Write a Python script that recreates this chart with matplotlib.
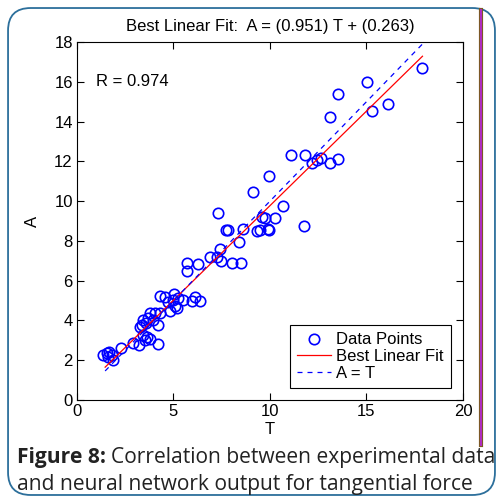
import numpy as np
import matplotlib
matplotlib.use("Agg")
import matplotlib.pyplot as plt
from matplotlib.patches import FancyBboxPatch

# target T vs network output A
T = [1.36, 1.54, 1.59, 1.67, 1.80, 1.88, 2.26, 2.88, 3.23, 3.44, 3.52, 3.64, 3.78,
     4.21, 3.26, 3.35, 3.40, 3.58, 3.70, 3.78, 3.95, 4.04, 4.21, 4.30,
     4.30, 4.56, 4.73, 4.82, 4.96, 5.04, 5.08, 5.17, 5.25, 5.51, 5.94, 6.11, 6.37,
     5.68, 5.68, 6.29, 6.89, 7.24, 7.44, 7.41, 8.01, 8.50, 8.41,
     7.70, 7.80, 8.62, 9.34, 9.91, 7.32, 9.14, 9.57, 9.74, 10.26, 9.48, 9.96,
     9.95, 10.66, 11.78, 11.07, 11.80, 12.16, 12.42, 12.64, 13.10, 13.54,
     13.13, 15.27, 16.13, 13.52, 15.04, 17.90]
A = [2.26, 2.35, 2.18, 2.43, 2.26, 2.01, 2.63, 2.88, 2.77, 3.27, 3.02, 3.18, 3.05,
     2.80, 3.65, 3.77, 4.02, 3.86, 4.11, 4.39, 4.02, 4.36, 3.77, 4.39,
     5.23, 5.16, 4.94, 4.49, 5.03, 5.33, 4.73, 4.61, 5.11, 5.03, 4.98, 5.16, 4.99,
     6.87, 6.50, 6.84, 7.20, 7.17, 7.00, 7.58, 6.90, 6.90, 7.96,
     8.55, 8.55, 8.58, 8.51, 8.58, 9.42, 10.44, 9.22, 9.13, 9.13, 8.55, 8.55,
     11.26, 9.75, 8.75, 12.32, 12.32, 11.93, 12.07, 12.15, 11.90, 12.10,
     14.24, 14.55, 14.88, 15.37, 15.97, 16.68]
slope = 0.951
intercept = 0.263
r_value = 0.974

plt.rcParams['font.family'] = ['Liberation Sans', 'DejaVu Sans']

fig = plt.figure(figsize=(5.03, 5.01), dpi=100)
ax = fig.add_axes([0.153, 0.2016, 0.7675, 0.7145])

T = np.array(T)
A = np.array(A)
t_line = np.array([T.min() + 0.1, T.max()])

ax.plot(T, A, 'o', mfc='none', mec='blue', ms=7.5, mew=1.2, label='Data Points')
ax.plot(t_line, slope * t_line + intercept, '-', color='red', lw=0.9, label='Best Linear Fit')
ax.plot(t_line, t_line, '--', color='blue', lw=0.9, dashes=(4, 4), label='A = T')

ax.set_xlim(0, 20)
ax.set_ylim(0, 18)
ax.set_xticks([0, 5, 10, 15, 20])
ax.set_yticks(np.arange(0, 19, 2))
ax.tick_params(direction='in', top=True, right=True, labelsize=12, length=5,
               width=0.8, pad=3)
for sp in ax.spines.values():
    sp.set_linewidth(0.8)
ax.set_xlabel('T', fontsize=12, labelpad=2)
ax.set_ylabel('A', fontsize=12, labelpad=10)
ax.set_title('Best Linear Fit:  A = (%.3f) T + (%.3f)' % (slope, intercept),
             fontsize=12, pad=8)
ax.text(1.0, 16.0, 'R = %.3f' % r_value, fontsize=12, va='center')

leg = ax.legend(loc='lower right', fontsize=12, fancybox=False, framealpha=1,
                edgecolor='black', handlelength=2.0, borderpad=0.45,
                labelspacing=0.1, handletextpad=0.35, borderaxespad=0.7)
leg.get_frame().set_linewidth(0.8)

# page decoration: rounded frame and side bar
frame = FancyBboxPatch((0.016, 0.012), 0.968, 0.972,
                       boxstyle='round,pad=0,rounding_size=0.045',
                       transform=fig.transFigure, fill=False,
                       edgecolor='#2c6f9b', lw=1.3)
fig.patches.append(frame)
fig.add_artist(plt.Line2D([0.957, 0.957], [0.112, 0.98], transform=fig.transFigure,
                          color='#7a5a20', lw=3.0))
fig.add_artist(plt.Line2D([0.957, 0.957], [0.112, 0.98], transform=fig.transFigure,
                          color='#b02cc0', lw=1.5))

cap_font = ['Open Sans', 'DejaVu Sans']
head = fig.text(0.034, 0.0758, 'Figure 8:', fontsize=15.1, fontweight='bold',
                family=cap_font, color='#222222')
fig.add_artist(plt.Annotation('Correlation between experimental data', xy=(1, 0),
                              xycoords=head, xytext=(3.5, 0), textcoords='offset points',
                              fontsize=15.1, family=cap_font, color='#222222',
                              va='bottom'))
fig.text(0.034, 0.022, 'and neural network output for tangential force', fontsize=15.1,
         family=cap_font, color='#222222')

fig.savefig('out.png', dpi=100)
